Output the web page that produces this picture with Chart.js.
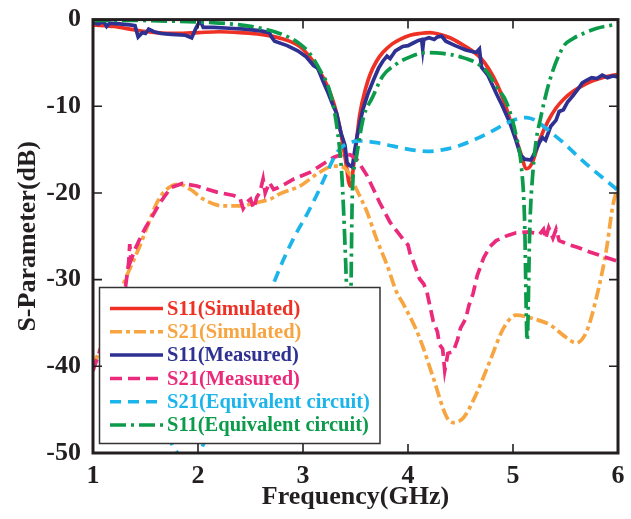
<!DOCTYPE html>
<html>
<head>
<meta charset="utf-8">
<script src="https://cdn.jsdelivr.net/npm/chart.js@4.4.1/dist/chart.umd.min.js"></script>
<style>
  html, body { margin: 0; padding: 0; background: #fff; }
  #wrap { width: 631px; height: 519px; }
</style>
</head>
<body>
<div id="wrap"><canvas id="sp" width="631" height="519"></canvas></div>
<script>
const RED    = '#EE3124';
const ORANGE = '#F7A541';
const NAVY   = '#2E3192';
const PINK   = '#EC2A7B';
const SKY    = '#1CB5EB';
const GREEN  = '#0C9B4A';
const INK    = '#231F20';
const SERIF  = '"Liberation Serif", "Times New Roman", serif';

// frequency (GHz) / dB pairs
const s11SimF = [1.0,1.2,1.4,1.6,1.8,2.0,2.2,2.4,2.6,2.8,2.97,3.07,3.16,3.23,3.30,3.35,3.40,3.45,3.49,3.54,3.60,3.64,3.70,3.76,3.85,3.92,4.02,4.11,4.21,4.30,4.40,4.52,4.60,4.69,4.77,4.85,4.92,4.97,5.03,5.07,5.13,5.18,5.22,5.26,5.33,5.41,5.49,5.57,5.65,5.73,5.85,6.0];
const s11SimV = [-0.6,-0.8,-1.2,-1.5,-1.6,-1.5,-1.4,-1.5,-1.7,-2.2,-3.1,-4.4,-6.0,-7.6,-9.9,-12.4,-15.8,-19.2,-16.0,-11.0,-7.8,-6.3,-4.8,-3.8,-2.8,-2.3,-1.8,-1.6,-1.5,-1.7,-2.1,-2.9,-3.5,-4.4,-5.7,-7.5,-9.6,-11.5,-13.8,-15.3,-17.2,-16.6,-15.2,-13.7,-11.8,-10.2,-9.1,-8.3,-7.7,-7.2,-6.7,-6.3];

const s21SimF = [1.0,1.1,1.2,1.31,1.45,1.51,1.61,1.70,1.82,1.93,2.05,2.24,2.40,2.56,2.69,2.78,2.97,3.16,3.29,3.35,3.42,3.51,3.61,3.70,3.80,3.89,3.96,4.11,4.24,4.37,4.43,4.53,4.65,4.78,4.91,5.03,5.16,5.35,5.51,5.60,5.70,5.80,5.89,5.95,6.0];
const s21SimV = [-40,-37,-33.5,-29.9,-26,-24.1,-21.1,-19.6,-19.0,-19.6,-20.7,-21.5,-21.5,-21.1,-20.7,-20.1,-19.2,-17.6,-16.9,-16.9,-17.4,-19.6,-22.2,-25.3,-28.3,-31.4,-32.9,-36.7,-41.3,-45.9,-46.5,-45.9,-43.2,-39.4,-35.6,-34.1,-34.4,-35.2,-36.7,-37.3,-36.0,-31.8,-26.5,-21.5,-19.2];

const s11MeaF = [1.0,1.05,1.10,1.13,1.16,1.25,1.35,1.40,1.43,1.47,1.50,1.53,1.58,1.65,1.75,1.88,1.94,1.98,2.02,2.05,2.15,2.30,2.45,2.60,2.68,2.70,2.73,2.85,2.95,3.03,3.10,3.14,3.19,3.23,3.28,3.32,3.36,3.40,3.42,3.44,3.47,3.49,3.51,3.54,3.57,3.62,3.67,3.72,3.76,3.80,3.83,3.88,3.95,4.00,4.05,4.10,4.13,4.14,4.15,4.20,4.25,4.28,4.32,4.36,4.45,4.55,4.65,4.68,4.70,4.72,4.76,4.84,4.90,4.97,5.03,5.07,5.11,5.17,5.21,5.25,5.28,5.31,5.36,5.41,5.44,5.48,5.52,5.57,5.62,5.66,5.70,5.75,5.80,5.85,5.90,5.95,6.0];
const s11MeaV = [-0.3,-0.5,-0.2,-0.8,-0.4,-0.5,-0.6,-0.7,-2.0,-1.5,-1.6,-1.1,-1.4,-1.6,-1.7,-1.8,-2.1,-1.0,-0.1,-0.9,-0.9,-1.0,-1.1,-1.3,-1.5,-2.0,-2.5,-3.0,-3.6,-4.3,-5.3,-5.6,-7.1,-8.2,-9.7,-10.8,-13.0,-14.5,-16.5,-16.8,-17.0,-15.3,-13.8,-12.0,-10.4,-8.5,-7.0,-5.6,-4.8,-4.2,-4.5,-3.6,-3.1,-3.0,-2.7,-2.4,-2.3,-3.4,-2.3,-2.1,-2.3,-2.0,-1.9,-2.5,-3.0,-3.5,-3.8,-3.4,-5.5,-5.8,-6.4,-8.5,-10.0,-11.9,-14.0,-15.6,-16.1,-16.2,-15.3,-14.2,-13.6,-13.9,-12.3,-11.6,-10.6,-10.4,-9.5,-8.8,-8.0,-7.3,-7.0,-6.7,-6.8,-6.4,-6.7,-6.5,-6.6];

const s21MeaF = [1.0,1.1,1.2,1.31,1.34,1.35,1.36,1.40,1.45,1.50,1.55,1.64,1.74,1.85,1.99,2.18,2.34,2.40,2.43,2.47,2.50,2.53,2.56,2.59,2.62,2.64,2.68,2.72,2.76,2.84,2.91,3.07,3.16,3.29,3.38,3.45,3.51,3.61,3.73,3.83,3.95,4.00,4.02,4.05,4.11,4.15,4.18,4.24,4.28,4.30,4.33,4.35,4.38,4.43,4.47,4.50,4.55,4.58,4.62,4.66,4.72,4.78,4.84,4.95,5.03,5.16,5.25,5.29,5.31,5.34,5.38,5.41,5.44,5.50,5.54,5.62,5.73,5.85,6.0];
const s21MeaV = [-40.5,-37,-33.5,-30.8,-28,-25.9,-27.8,-26.5,-25.2,-24,-23.0,-21.1,-19.4,-18.9,-19.2,-19.9,-20.3,-20.6,-21.8,-21.0,-20.7,-21.8,-20.5,-19.9,-18.4,-20.0,-18.8,-19.6,-19.4,-18.9,-18.4,-17.6,-16.9,-15.9,-15.5,-15.6,-16.1,-18.0,-21.1,-23.4,-25.3,-26.0,-27.0,-27.9,-29.9,-30.5,-31.4,-34.8,-36.0,-37.5,-38.0,-40.5,-38.5,-38.3,-37.0,-35.6,-34.5,-33.0,-31.6,-29.5,-27.5,-26.2,-25.5,-24.9,-24.6,-24.5,-24.8,-24.2,-25.3,-24.0,-25.2,-24.2,-25.5,-25.8,-26.0,-26.3,-26.8,-27.3,-27.9];

const s21EqF = [1.6,1.7,1.78,1.9,2.02,2.2,2.4,2.6,2.70,2.81,2.92,3.04,3.14,3.23,3.32,3.38,3.54,3.70,3.86,4.02,4.18,4.34,4.50,4.66,4.81,4.93,5.03,5.13,5.21,5.29,5.38,5.48,5.62,5.76,5.88,6.0];
const s21EqV = [-44,-47.5,-49.6,-50.8,-49.7,-44.5,-39,-33.8,-31.0,-27.8,-25.0,-22.4,-20.0,-17.6,-15.4,-14.6,-14.0,-14.2,-14.6,-15.0,-15.2,-15.0,-14.5,-13.7,-12.8,-12.0,-11.5,-11.3,-11.6,-12.3,-13.2,-14.2,-15.8,-17.3,-18.5,-19.7];

const s11EqF = [1.0,1.4,1.8,2.2,2.4,2.6,2.8,2.97,3.07,3.16,3.26,3.33,3.37,3.40,3.42,3.44,3.455,3.47,3.50,3.54,3.58,3.66,3.76,3.88,4.02,4.18,4.33,4.50,4.65,4.75,4.84,4.94,5.03,5.08,5.11,5.135,5.16,5.19,5.22,5.26,5.35,5.48,5.57,5.67,5.8,6.0];
const s11EqV = [-0.1,-0.1,-0.2,-0.4,-0.6,-1.0,-1.7,-2.8,-4.0,-5.8,-8.5,-13.0,-18,-26,-33,-42,-33,-20,-16.5,-13.5,-11.1,-9.0,-6.5,-5.2,-4.3,-3.8,-3.9,-4.3,-5.0,-6.0,-7.7,-9.6,-13.4,-17,-23,-37,-24,-17.5,-14,-11.5,-7.0,-3.1,-2.2,-1.6,-1.0,-0.5];

const xTicks = [1, 2, 3, 4, 5, 6];
const yTicks = [0, -10, -20, -30, -40, -50];

const pts = (f, v) => f.map((x, i) => ({ x: x, y: v[i] }));

const series = [
  { label: 'S11(Simulated)',          data: pts(s11SimF, s11SimV), color: RED,    dash: [],            smooth: true,  order: 6 },
  { label: 'S21(Simulated)',          data: pts(s21SimF, s21SimV), color: ORANGE, dash: [12, 4, 4, 4], smooth: true,  order: 4 },
  { label: 'S11(Measured)',           data: pts(s11MeaF, s11MeaV), color: NAVY,   dash: [],            smooth: false, order: 5 },
  { label: 'S21(Measured)',           data: pts(s21MeaF, s21MeaV), color: PINK,   dash: [12, 6],       smooth: false, order: 3 },
  { label: 'S21(Equivalent circuit)', data: pts(s21EqF, s21EqV),   color: SKY,    dash: [11, 7],       smooth: true,  order: 2 },
  { label: 'S11(Equivalent circuit)', data: pts(s11EqF, s11EqV),   color: GREEN,  dash: [16, 5, 3, 5], smooth: true,  order: 1 },
];

// white legend box drawn over the plot, then the frame and inward ticks
const boxPlugin = {
  id: 'box',
  afterDatasetsDraw(chart) {
    const ctx = chart.ctx;
    const a = chart.chartArea;
    const xs = chart.scales.x, ys = chart.scales.y;

    ctx.save();
    const lx = 99.5, ly = 287.5, lw = 280.5, lh = 156;
    ctx.fillStyle = '#fff';
    ctx.fillRect(lx, ly, lw, lh);
    ctx.strokeStyle = '#333';
    ctx.lineWidth = 1.5;
    ctx.strokeRect(lx, ly, lw, lh);
    ctx.font = 'bold 20.5px ' + SERIF;
    ctx.textBaseline = 'middle';
    series.forEach((s, i) => {
      const y = 308.5 + i * 23.3;
      ctx.strokeStyle = s.color;
      ctx.lineWidth = 3.5;
      ctx.setLineDash(s.dash);
      ctx.beginPath();
      ctx.moveTo(110, y);
      ctx.lineTo(163, y);
      ctx.stroke();
      ctx.setLineDash([]);
      ctx.fillStyle = s.color;
      ctx.fillText(s.label, 167, y + 1);
    });

    ctx.strokeStyle = INK;
    ctx.lineWidth = 1.6;
    xTicks.forEach(t => {
      const px = xs.getPixelForValue(t);
      ctx.beginPath();
      ctx.moveTo(px, a.bottom); ctx.lineTo(px, a.bottom - 9);
      ctx.moveTo(px, a.top);    ctx.lineTo(px, a.top + 9);
      ctx.stroke();
    });
    yTicks.forEach(t => {
      const py = ys.getPixelForValue(t);
      ctx.beginPath();
      ctx.moveTo(a.left, py);  ctx.lineTo(a.left + 9, py);
      ctx.moveTo(a.right, py); ctx.lineTo(a.right - 9, py);
      ctx.stroke();
    });
    ctx.lineWidth = 3;
    ctx.strokeRect(a.left, a.top, a.right - a.left, a.bottom - a.top);
    ctx.restore();
  }
};

new Chart(document.getElementById('sp'), {
  type: 'line',
  data: {
    datasets: series.map(s => ({
      label: s.label,
      data: s.data,
      borderColor: s.color,
      backgroundColor: s.color,
      borderDash: s.dash,
      borderWidth: 3.7,
      pointRadius: 0,
      fill: false,
      order: s.order,
      tension: 0,
      cubicInterpolationMode: s.smooth ? 'monotone' : 'default',
    }))
  },
  options: {
    responsive: false,
    animation: false,
    devicePixelRatio: 1,
    layout: { padding: { top: 16, right: 13, left: 0, bottom: 0 } },
    plugins: { legend: { display: false }, tooltip: { enabled: false } },
    scales: {
      x: {
        type: 'linear', min: 1, max: 6,
        afterFit: s => { s.height = 66; },
        afterBuildTicks: s => { s.ticks = xTicks.map(v => ({ value: v })); },
        grid: { display: false }, border: { display: false },
        ticks: { color: INK, padding: 0, font: { family: SERIF, size: 26, weight: 'bold' } },
        title: { display: true, text: 'Frequency(GHz)', color: INK, padding: { top: 0, bottom: 6 },
                 font: { family: SERIF, size: 26, weight: 'bold' } }
      },
      y: {
        min: -50, max: 0,
        afterFit: s => { s.width = 93; },
        afterBuildTicks: s => { s.ticks = yTicks.map(v => ({ value: v })); },
        grid: { display: false }, border: { display: false },
        ticks: { color: INK, padding: 4, font: { family: SERIF, size: 26, weight: 'bold' } },
        title: { display: true, text: 'S-Parameter(dB)', color: INK, padding: { top: 13, bottom: 0 },
                 font: { family: SERIF, size: 26, weight: 'bold' } }
      }
    }
  },
  plugins: [boxPlugin]
});
</script>
</body>
</html>
